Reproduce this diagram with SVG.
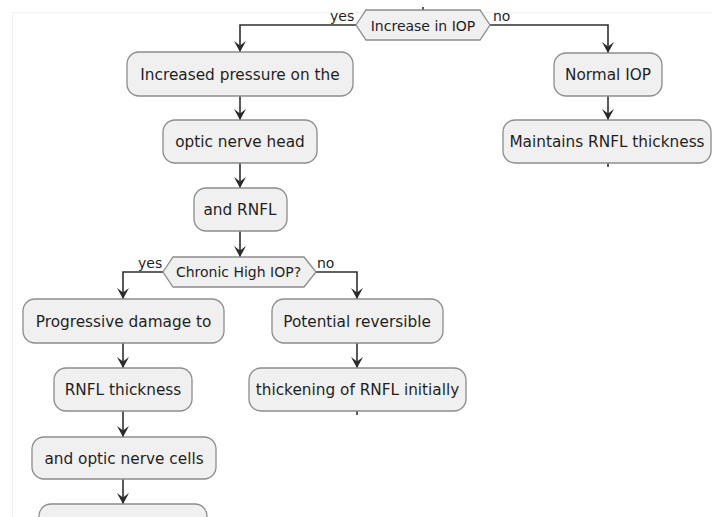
<svg xmlns="http://www.w3.org/2000/svg" width="712" height="517" viewBox="0 0 712 517">
<defs>
<marker id="ah" markerUnits="userSpaceOnUse" markerWidth="12" markerHeight="12" refX="11" refY="6" orient="auto" overflow="visible">
<path d="M11,6 L0,0 L4.5,6 L0,12 Z" fill="#2a2a2a"/>
</marker>
</defs>
<style>
.box{fill:#f0f0f0;stroke:#8c8c8c;stroke-width:1.3}
.dia{fill:#f0f0f0;stroke:#8c8c8c;stroke-width:1.3}
.t{font-family:"DejaVu Sans","Liberation Sans",sans-serif;font-size:15.3px;fill:#1f1f1f;text-anchor:middle}
.td{font-family:"DejaVu Sans","Liberation Sans",sans-serif;font-size:14px;fill:#1f1f1f;text-anchor:middle}
.lb{font-family:"DejaVu Sans","Liberation Sans",sans-serif;font-size:14px;fill:#1f1f1f}
.e{fill:none;stroke:#2f2f2f;stroke-width:1.6}
.ea{fill:none;stroke:#2f2f2f;stroke-width:1.6;marker-end:url(#ah)}
.frame{stroke:#f0f0f0;stroke-width:1;fill:none}
</style>
<rect width="712" height="517" fill="#ffffff"/>
<path class="frame" d="M12.5,517 L12.5,12.5 L712,12.5"/>

<g id="connectors">
<line class="e" x1="423" y1="7" x2="423" y2="10"/>
<polyline class="ea" points="356,25 240,25 240,52"/>
<polyline class="ea" points="490,25 608,25 608,53"/>
<line class="ea" x1="240" y1="96" x2="240" y2="120"/>
<line class="ea" x1="240" y1="163" x2="240" y2="188"/>
<line class="ea" x1="240" y1="231" x2="240" y2="257"/>
<line class="ea" x1="608" y1="96" x2="608" y2="120"/>
<line class="e" x1="608" y1="163" x2="608" y2="167"/>
<polyline class="ea" points="163,272 123,272 123,299"/>
<polyline class="ea" points="316,272 357,272 357,299"/>
<line class="ea" x1="123" y1="343" x2="123" y2="368"/>
<line class="ea" x1="357" y1="343" x2="357" y2="368"/>
<line class="e" x1="357" y1="411" x2="357" y2="415"/>
<line class="ea" x1="123" y1="411" x2="123" y2="437"/>
<line class="ea" x1="123" y1="479" x2="123" y2="504"/>
<text class="lb" x="330" y="20.5">yes</text>
<text class="lb" x="493" y="20.5">no</text>
<text class="lb" x="138" y="268">yes</text>
<text class="lb" x="317" y="268">no</text>
</g>

<g id="d1">
<polygon class="dia" points="356,25 366,10 480,10 490,25 480,40 366,40"/>
<text class="td" x="423" y="30.5">Increase in IOP</text>
</g>
<g id="n1">
<rect class="box" x="127" y="52" width="226" height="44" rx="12"/>
<text class="t" x="240" y="80">Increased pressure on the</text>
</g>
<g id="n2">
<rect class="box" x="163" y="120" width="154" height="43" rx="12"/>
<text class="t" x="240" y="147">optic nerve head</text>
</g>
<g id="n3">
<rect class="box" x="194" y="188" width="93" height="43" rx="12"/>
<text class="t" x="240" y="215">and RNFL</text>
</g>
<g id="n4">
<rect class="box" x="554" y="53" width="108" height="43" rx="12"/>
<text class="t" x="608" y="80">Normal IOP</text>
</g>
<g id="n5">
<rect class="box" x="503" y="120" width="208" height="43" rx="12"/>
<text class="t" x="607" y="147">Maintains RNFL thickness</text>
</g>
<g id="d2">
<polygon class="dia" points="163,272 173,257 304,257 316,272 304,287 173,287"/>
<text class="td" x="238.5" y="277">Chronic High IOP?</text>
</g>
<g id="n6">
<rect class="box" x="23" y="299" width="201" height="44" rx="12"/>
<text class="t" x="123.5" y="327">Progressive damage to</text>
</g>
<g id="n7">
<rect class="box" x="272" y="299" width="171" height="44" rx="12"/>
<text class="t" x="357" y="327">Potential reversible</text>
</g>
<g id="n8">
<rect class="box" x="54" y="368" width="138" height="43" rx="12"/>
<text class="t" x="123" y="395">RNFL thickness</text>
</g>
<g id="n9">
<rect class="box" x="249" y="368" width="217" height="43" rx="12"/>
<text class="t" x="357.5" y="395">thickening of RNFL initially</text>
</g>
<g id="n10">
<rect class="box" x="32" y="437" width="184" height="42" rx="12"/>
<text class="t" x="124" y="463.5">and optic nerve cells</text>
</g>
<g id="n11">
<rect class="box" x="39" y="504" width="168" height="43" rx="12"/>
</g>
</svg>
